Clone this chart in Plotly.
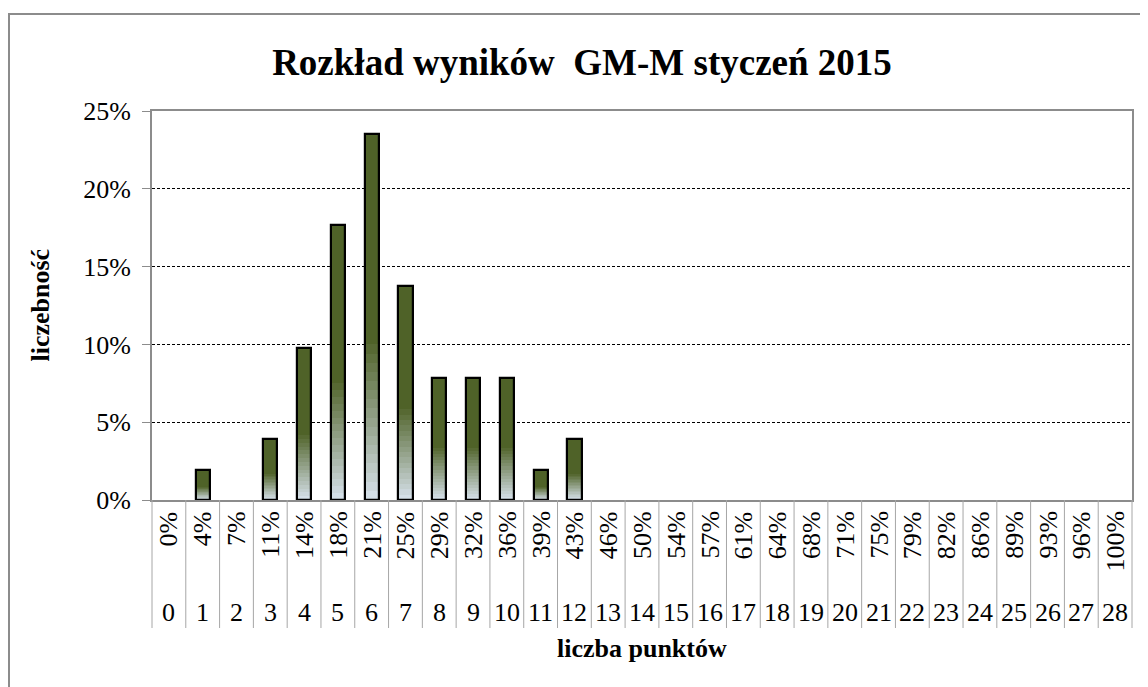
import plotly.graph_objects as go

# ---- data ----
points = list(range(29))
pct_labels = ["0%", "4%", "7%", "11%", "14%", "18%", "21%", "25%", "29%", "32%",
              "36%", "39%", "43%", "46%", "50%", "54%", "57%", "61%", "64%", "68%",
              "71%", "75%", "79%", "82%", "86%", "89%", "93%", "96%", "100%"]
share = [0.0, 0.0196, 0.0, 0.0392, 0.098, 0.1765, 0.2353, 0.1373, 0.0784, 0.0784,
         0.0784, 0.0196, 0.0392] + [0.0] * 16

title_text = "Rozkład wyników  GM-M styczeń 2015"
y_title = "liczebność"
x_title = "liczba punktów"

FONT = "Liberation Serif"
DARK = (79, 98, 40)
LIGHT = (220, 230, 242)
SOLID_FROM = 0.45  # fraction of bar height (from bottom) above which colour is solid dark
N = 40
BAR_W = 0.42

# figure geometry (page has an 8px body margin)
W, H = 1140, 679
ML, MR, MT, MB = 144, 16, 103, 187
PW = W - ML - MR
PH = H - MT - MB

drawn = [v if v > 0 else None for v in share]

fig = go.Figure()

# gradient bars: overlaid bars of decreasing height, colour by height fraction
for j in range(N):
    h = 1 - j / N
    t = min(h / SOLID_FROM, 1.0)
    col = tuple(round(LIGHT[i] + (DARK[i] - LIGHT[i]) * t) for i in range(3))
    fig.add_trace(go.Bar(
        x=points, y=[None if v is None else v * h for v in drawn],
        marker=dict(color="rgb(%d,%d,%d)" % col, line=dict(width=0)),
        width=BAR_W, hoverinfo="skip", showlegend=False))

# outline
fig.add_trace(go.Bar(
    x=points, y=drawn,
    marker=dict(color="rgba(0,0,0,0)", line=dict(color="black", width=2.2)),
    width=BAR_W, showlegend=False))

LBL = 26
annotations = []
for p, lab in zip(points, pct_labels):
    annotations.append(dict(x=p, y=0, xref="x", yref="y", text=lab, textangle=-90,
                            showarrow=False, yanchor="top", xanchor="center", yshift=-9,
                            font=dict(family=FONT, size=LBL, color="black")))
    annotations.append(dict(x=p, y=0, xref="x", yref="y", text=str(p),
                            showarrow=False, yanchor="middle", xanchor="center", yshift=-112,
                            font=dict(family=FONT, size=LBL, color="black")))

annotations.append(dict(x=0.5, y=0, xref="paper", yref="paper", text="<b>%s</b>" % x_title,
                        showarrow=False, yanchor="middle", xanchor="center", yshift=-148,
                        font=dict(family=FONT, size=26, color="black")))
annotations.append(dict(x=0, y=0.5, xref="paper", yref="paper", text="<b>%s</b>" % y_title,
                        showarrow=False, textangle=-90, xanchor="center", yanchor="middle",
                        xshift=-112, font=dict(family=FONT, size=26, color="black")))

shapes = []
n = len(points)
for k in range(n + 1):
    shapes.append(dict(type="line", xref="paper", yref="paper", x0=k / n, x1=k / n,
                       y0=0, y1=-128 / PH, line=dict(color="#A6A6A6", width=1)))

# outer chart border
shapes.append(dict(type="rect", xref="paper", yref="paper",
                   x0=(1 - ML) / PW, x1=(1133 - ML) / PW,
                   y0=(MT + PH - 720) / PH, y1=(MT + PH - 6) / PH,
                   line=dict(color="#8C8C8C", width=2), fillcolor="rgba(0,0,0,0)", layer="below"))

fig.update_layout(
    width=W, height=H,
    margin=dict(l=ML, r=MR, t=MT, b=MB),
    paper_bgcolor="white", plot_bgcolor="white",
    barmode="overlay", bargap=0,
    title=dict(text="<b>%s</b>" % title_text, x=574 / W, xref="container",
               y=1 - 54 / H, yref="container", xanchor="center", yanchor="middle",
               font=dict(family=FONT, size=37, color="black")),
    xaxis=dict(range=[-0.5, 28.5], showticklabels=False, ticks="", showgrid=False,
               showline=True, linecolor="#8C8C8C", linewidth=2, mirror=True, zeroline=False),
    yaxis=dict(range=[0, 0.25], dtick=0.05, tickformat=".0%", showgrid=True,
               gridcolor="black", gridwidth=1, griddash="3px,2px",
               showline=True, linecolor="#8C8C8C", linewidth=2, mirror=True,
               ticks="outside", ticklen=8, tickcolor="#8C8C8C", zeroline=False,
               ticklabelstandoff=6,
               tickfont=dict(family=FONT, size=LBL, color="black")),
    annotations=annotations, shapes=shapes,
)

fig.write_html("out.html")
